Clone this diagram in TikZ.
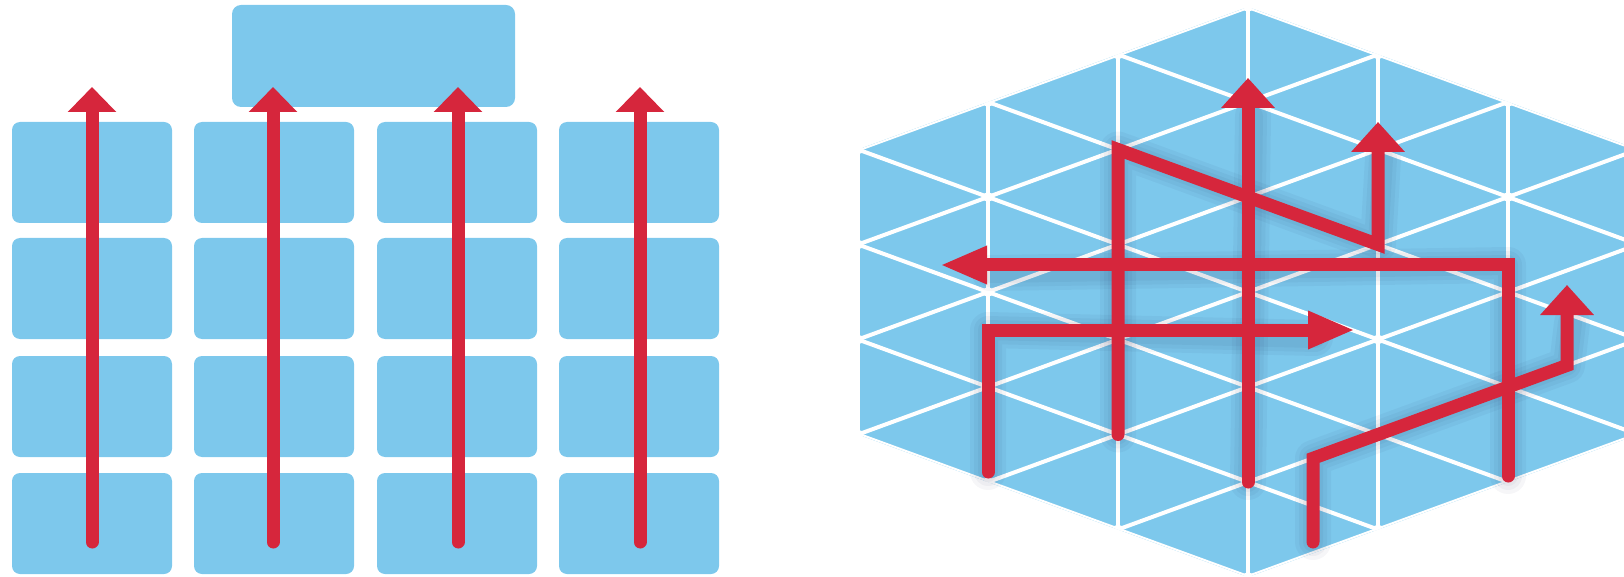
\documentclass[tikz,border=0pt]{standalone}
\usetikzlibrary{arrows.meta}
\definecolor{tile}{RGB}{125,200,236}
\definecolor{redline}{RGB}{214,38,60}
\begin{document}
\begin{tikzpicture}[x=1pt,y=-1pt,
  tilebox/.style={fill=tile, rounded corners=8pt, inner sep=0pt, outer sep=0pt,
    minimum width=160pt, minimum height=101pt, anchor=north west},
  topbox/.style={fill=tile, rounded corners=9pt, inner sep=0pt, outer sep=0pt,
    minimum width=283pt, minimum height=102pt, anchor=north west},
  redpath/.style={draw=redline, line width=13pt, line cap=round},
  lefttip/.style={-{Triangle[length=25pt,width=47pt]}},
  uptip/.style={-{Triangle[length=30pt,width=52pt]}},
  sidetip/.style={-{Triangle[length=47pt,width=35pt]}},
  gridline/.style={draw=white, line width=4pt},
  shadowline/.style={draw=black!80!blue, opacity=0.035, line cap=round, line join=round}]
\useasboundingbox (0,0) rectangle (1624,577);
\clip (0,0) rectangle (1624,577);

% ---------- left diagram ----------
\node[topbox] (top) at (232,5) {};
\foreach \c/\x in {1/12,2/194,3/377,4/559}{
  \foreach \r/\y in {1/122,2/238,3/356,4/473}{
    \node[tilebox] (b\r\c) at (\x,\y) {};
  }
}
\foreach \c/\x in {1/92,2/273,3/458,4/640}{
  \coordinate (s\c) at (\x,542);
  \coordinate (e\c) at (\x,87);
  \draw[redpath, lefttip] (s\c) -- (e\c);
}

% ---------- right diagram ----------
\begin{scope}[shift={(1248,292)}]
  \fill[tile, rounded corners=6pt] (0,-285) -- (390,-142.5) -- (390,142.5) -- (0,285)
     -- (-390,142.5) -- (-390,-142.5) -- cycle;
  \begin{scope}
    \clip (0,-285) -- (390,-142.5) -- (390,142.5) -- (0,285)
     -- (-390,142.5) -- (-390,-142.5) -- cycle;
    \foreach \k in {0,...,6}{
      \draw[gridline] (-390+130*\k,-300) -- (-390+130*\k,300);
    }
    \foreach \m in {-6,...,6}{
      \draw[gridline] (-400,-146.15+95*\m) -- (400,146.15+95*\m);
      \draw[gridline] (-400,146.15+95*\m) -- (400,-146.15+95*\m);
    }
    \foreach \i in {0,...,6}{
      \foreach \j in {-4,...,4}{
        \pgfmathsetmacro\yy{47.5*mod(\i+1,2)+95*\j}
        \fill[white] (-390+130*\i,\yy) circle[radius=5pt];
      }
    }
  \end{scope}
\end{scope}

% path coordinates
\coordinate (p1a) at (1118,434.5);
\coordinate (p1b) at (1118,149.5);
\coordinate (p1c) at (1378,244.5);
\coordinate (p1d) at (1378,122);
\coordinate (p2a) at (1248,482);
\coordinate (p2b) at (1248,78);
\coordinate (p3a) at (1508,476);
\coordinate (p3b) at (1508,265);
\coordinate (p3c) at (940,265);
\coordinate (p4a) at (988,472);
\coordinate (p4b) at (988,330);
\coordinate (p4c) at (1355,330);
\coordinate (p5a) at (1313,542);
\coordinate (p5b) at (1313,458.25);
\coordinate (p5c) at (1567,365.4);
\coordinate (p5d) at (1567,285);

% soft shadows
\begin{scope}[shift={(5,8)}]
  \foreach \w in {36,28,20}{
    \draw[shadowline, line width=\w pt] (p1a) -- (p1b) -- (p1c) -- (1378,150);
    \draw[shadowline, line width=\w pt] (p2a) -- (1248,108);
    \draw[shadowline, line width=\w pt] (p3a) -- (p3b) -- (985,265);
    \draw[shadowline, line width=\w pt] (p4a) -- (p4b) -- (1310,330);
    \draw[shadowline, line width=\w pt] (p5a) -- (p5b) -- (p5c) -- (1567,315);
  }
\end{scope}

\draw[redpath, uptip] (p1a) -- (p1b) -- (p1c) -- (p1d);
\draw[redpath, uptip] (p2a) -- (p2b);
\draw[redpath, sidetip] (p3a) -- (p3b) -- (p3c);
\draw[redpath, sidetip] (p4a) -- (p4b) -- (p4c);
\draw[redpath, uptip] (p5a) -- (p5b) -- (p5c) -- (p5d);
\end{tikzpicture}
\end{document}
